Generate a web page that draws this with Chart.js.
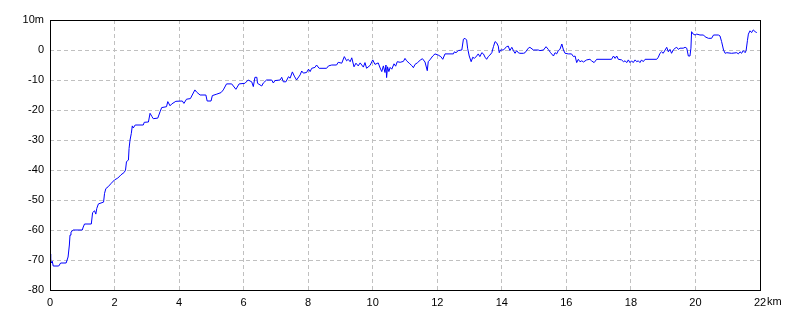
<!DOCTYPE html>
<html>
<head>
<meta charset="utf-8">
<script src="https://cdn.jsdelivr.net/npm/chart.js@4"></script>
<style>
html,body{margin:0;padding:0;background:#fff;}
#wrap{width:800px;height:320px;position:relative;}
</style>
</head>
<body>
<div id="wrap"><canvas id="c" width="800" height="320"></canvas></div>
<script>
const distKm = [
0.00,0.02,0.04,0.07,0.10,0.27,0.33,0.50,0.56,0.60,0.62,0.65,0.72,1.00,1.03,1.07,1.28,1.32,1.38,1.42,
1.45,1.50,1.66,1.69,1.73,1.80,1.90,2.00,2.10,2.20,2.30,2.34,2.37,2.43,2.45,2.48,2.52,2.55,2.58,2.64,
2.89,2.92,3.05,3.10,3.16,3.20,3.34,3.41,3.46,3.61,3.65,3.72,3.77,3.90,4.10,4.15,4.23,4.35,4.49,4.54,
4.65,4.83,4.87,4.99,5.03,5.17,5.30,5.37,5.47,5.63,5.76,5.86,6.04,6.14,6.25,6.30,6.35,6.41,6.43,6.56,
6.61,6.71,6.87,6.92,6.97,7.13,7.18,7.23,7.31,7.39,7.44,7.51,7.57,7.64,7.75,7.80,7.85,7.95,8.01,8.06,
8.11,8.21,8.26,8.34,8.57,8.63,8.73,8.88,8.93,9.04,9.12,9.19,9.24,9.30,9.35,9.42,9.48,9.55,9.61,9.71,
9.76,9.81,9.92,10.00,10.07,10.17,10.23,10.28,10.33,10.38,10.41,10.43,10.46,10.50,10.54,10.59,10.66,10.71,10.76,10.85,
10.95,11.00,11.05,11.13,11.21,11.26,11.31,11.38,11.47,11.54,11.62,11.69,11.72,11.77,11.86,11.93,12.03,12.11,12.17,12.24,
12.50,12.53,12.58,12.65,12.76,12.81,12.86,12.91,12.94,12.99,13.05,13.10,13.15,13.22,13.27,13.32,13.38,13.43,13.48,13.53,
13.58,13.63,13.69,13.74,13.79,13.84,13.89,13.92,13.96,14.05,14.10,14.15,14.20,14.25,14.31,14.36,14.41,14.46,14.51,14.56,
14.67,14.72,14.82,14.87,14.98,15.13,15.18,15.29,15.37,15.44,15.51,15.60,15.65,15.70,15.75,15.80,15.86,15.91,15.96,16.06,
16.16,16.22,16.27,16.32,16.37,16.42,16.48,16.53,16.63,16.73,16.78,16.86,16.94,17.40,17.46,17.51,17.56,17.61,17.71,17.77,
17.82,17.87,17.92,17.97,18.02,18.07,18.13,18.18,18.23,18.28,18.33,18.38,18.44,18.80,18.85,18.90,18.95,19.00,19.06,19.11,
19.16,19.21,19.26,19.31,19.37,19.42,19.47,19.52,19.62,19.68,19.73,19.78,19.83,19.86,19.88,19.93,19.99,20.04,20.14,20.25,
20.30,20.40,20.50,20.56,20.71,20.76,20.81,20.87,20.92,20.97,21.12,21.28,21.33,21.38,21.43,21.48,21.54,21.57,21.61,21.64,
21.69,21.74,21.79,21.85,21.90
];
const elevM = [
-68,-70,-71,-70.4,-72,-72,-71,-71,-69,-65,-61.7,-60.7,-60,-60,-59,-58,-58,-54.2,-53.6,-54.7,
-52.8,-51.3,-50.7,-47.8,-46.2,-45.6,-44.4,-43.3,-42.7,-41.6,-40.8,-40,-37.2,-36.7,-32.8,-30,-27.8,-25.3,-26,-25,
-25,-24.1,-24,-21.1,-22.2,-22.9,-22.7,-20.6,-19.2,-18.9,-17.2,-18.6,-18,-17.1,-17,-17.8,-16.4,-16.2,-13.3,-14,
-15,-15,-17,-17,-15.2,-14.7,-14.2,-13.3,-11.3,-11.3,-13.1,-11.3,-11.1,-10,-10.6,-12.2,-9.1,-9.1,-11.1,-12,
-11,-10,-10,-11,-10.2,-10,-9.1,-10.6,-10.6,-8.9,-9.4,-7.3,-8.7,-10,-8.3,-7,-7.7,-7.5,-6.4,-7.2,
-6.1,-5.8,-5,-6.1,-6.1,-5.3,-5,-5,-4.1,-4.4,-2.2,-3.6,-3.1,-3.9,-2.6,-5.6,-4.4,-5.3,-4.3,-5.7,
-4.2,-6.1,-5.1,-3.3,-4.8,-4.3,-6,-7.2,-5.3,-7.5,-5,-9.2,-5.6,-7.2,-5.8,-6.4,-4.6,-5.4,-3.9,-4.1,
-3.8,-2.8,-3.6,-4.4,-5.2,-5.9,-4.8,-4.3,-3.4,-2.9,-4,-6.9,-3.9,-3.3,-2,-1.3,-1.7,-2.2,-3.1,-1.3,
-1.3,-0.6,-0.9,-0.2,0,3.6,3.9,3.3,0.6,-2,-3.9,-2.4,-2.8,-2,-1.3,-2.2,-0.9,-1.3,-2.4,-3.1,
-2.2,-1.7,-0.9,1.1,2.8,2.4,1.3,-0.9,0,0,0.6,1.1,1.3,-0.2,0.9,-0.2,-1.1,-0.2,-0.9,-1.1,
-1.1,-0.9,0.6,0.9,0,0,-0.2,0,1.1,0.2,-0.9,-2,-0.9,-1.3,-0.2,0.2,2,0,-1.1,-1.3,
-1.3,-2.2,-2,-4.2,-3.1,-3.9,-3.6,-4,-3.3,-3.1,-3.6,-4.2,-3.1,-3.1,-2,-2.8,-2,-3.1,-3.3,-3.9,
-3.6,-4.2,-3.3,-4.2,-3.6,-4.2,-3.3,-3.9,-3.6,-4.2,-3.3,-3.9,-3.1,-3.1,-2.4,-1.1,-0.6,-1.1,0,0.9,
-0.6,0.2,-1.1,0,0.6,0.9,0.2,0.6,0.6,0.9,0.6,-2,-2,0.6,6.1,5.3,5,5.3,5,5,
4.4,3.9,3.9,5,5,4.7,2.8,0,-1.1,-0.9,-1.1,-0.9,-1.3,-0.6,-1.1,-0.2,-0.9,-0.2,3.1,5.3,
6.4,5.8,6.7,6.1,5.8
];
const xTicks = [0,2,4,6,8,10,12,14,16,18,20,22];
const yTicks = [-80,-70,-60,-50,-40,-30,-20,-10,0,10];
const xUnit = 'km';
const yUnit = 'm';

const points = distKm.map((d, i) => ({x: d, y: elevM[i]}));
const FONT = {family: '"Liberation Sans", Arial, sans-serif', size: 11};

const frame = {
  id: 'frame',
  afterDraw(chart) {
    const {ctx, chartArea: a, scales} = chart;
    ctx.save();
    ctx.strokeStyle = '#000';
    ctx.lineWidth = 1;
    ctx.strokeRect(Math.round(a.left) + 0.5, Math.round(a.top) + 0.5, Math.round(a.right - a.left), Math.round(a.bottom - a.top));
    // unit after last x tick label
    const last = xTicks[xTicks.length - 1];
    const px = scales.x.getPixelForValue(last);
    ctx.font = '11px "Liberation Sans", Arial, sans-serif';
    ctx.fillStyle = '#000';
    ctx.textBaseline = 'top';
    ctx.textAlign = 'left';
    const w = ctx.measureText(String(last)).width;
    ctx.fillText(xUnit, px + w / 2 + 1, a.bottom + 6);
    ctx.restore();
  }
};

new Chart(document.getElementById('c'), {
  type: 'line',
  data: {
    datasets: [{
      data: points,
      borderColor: '#0000ff',
      borderWidth: 1,
      pointRadius: 0,
      tension: 0,
      fill: false
    }]
  },
  options: {
    responsive: false,
    animation: false,
    events: [],
    layout: {padding: {top: 20, right: 40, left: 0, bottom: 0}},
    plugins: {legend: {display: false}, tooltip: {enabled: false}},
    scales: {
      x: {
        type: 'linear',
        min: 0, max: 22,
        afterBuildTicks(s) { s.ticks = xTicks.map(v => ({value: v})); },
        afterFit(s) { s.height = 30; },
        ticks: {
          color: '#000', font: FONT, padding: 6, maxRotation: 0, autoSkip: false,
          callback: v => String(v)
        },
        grid: {color: '#c0c0c0', lineWidth: 1, drawTicks: false},
        border: {display: false, dash: [4, 3]}
      },
      y: {
        type: 'linear',
        min: -80, max: 10,
        afterBuildTicks(s) { s.ticks = yTicks.map(v => ({value: v})); },
        afterFit(s) { s.width = 50; },
        ticks: {
          color: '#000', font: FONT, padding: 6, autoSkip: false,
          callback: v => v === yTicks[yTicks.length - 1] ? v + yUnit : String(v)
        },
        grid: {color: '#c0c0c0', lineWidth: 1, drawTicks: false},
        border: {display: false, dash: [4, 3]}
      }
    }
  },
  plugins: [frame]
});
</script>
</body>
</html>
